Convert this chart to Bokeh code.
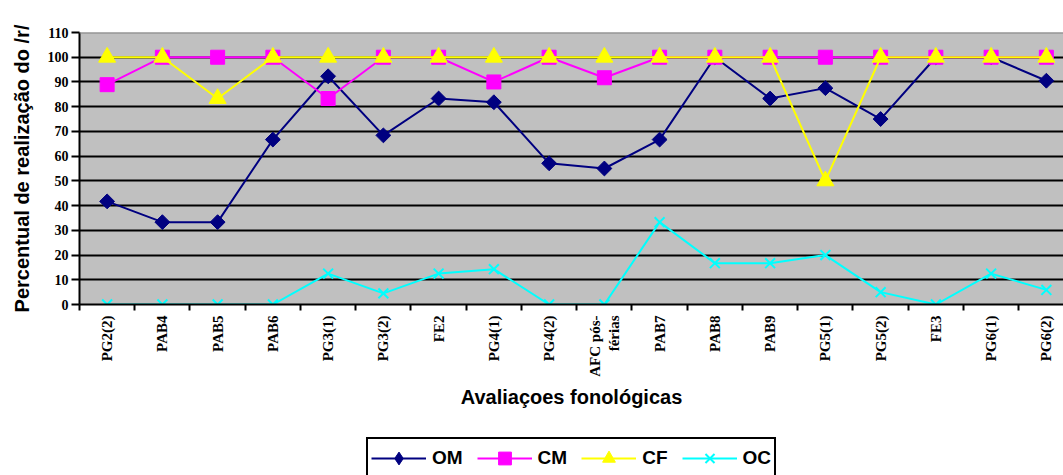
import numpy as np
from bokeh.plotting import figure
from bokeh.layouts import column
from bokeh.models import Range1d, FixedTicker, Span, Legend, LegendItem
from bokeh.embed import file_html
from bokeh.resources import INLINE

categories = ["PG2(2)", "PAB4", "PAB5", "PAB6", "PG3(1)", "PG3(2)", "FE2", "PG4(1)",
              "PG4(2)", "AFC pós-\nférias", "PAB7", "PAB8", "PAB9", "PG5(1)", "PG5(2)",
              "FE3", "PG6(1)", "PG6(2)"]
om = [41.7, 33.3, 33.3, 66.7, 92.3, 68.4, 83.3, 81.8, 57.1, 55.0, 66.7, 100, 83.3, 87.5, 75.0, 100, 100, 90.5]
cm = [88.9, 100, 100, 100, 83.3, 100, 100, 90.0, 100, 91.7, 100, 100, 100, 100, 100, 100, 100, 100]
cf = [100, 100, 83.3, 100, 100, 100, 100, 100, 100, 100, 100, 100, 100, 50, 100, 100, 100, 100]
oc = [0, 0, 0, 0, 12.5, 4.5, 12.5, 14.3, 0, 0, 33.3, 16.7, 16.7, 20.0, 5.0, 0, 12.5, 5.9]
series_names = ["OM", "CM", "CF", "OC"]
y_ticks = list(range(0, 111, 10))

idx = list(range(len(categories)))
series = [om, cm, cf, oc]
colors = ["#000080", "#FF00FF", "#FFFF00", "#00FFFF"]
markers = [dict(marker="square", angle=np.pi / 4, size=10.5),
           dict(marker="square", size=14),
           dict(marker="triangle", size=17),
           dict(marker="x", size=14, line_width=2)]
legend_markers = [dict(marker="diamond"), dict(marker="square"),
                  dict(marker="triangle"), dict(marker="x", line_width=2)]

p = figure(width=1063, height=435, x_range=Range1d(-0.5, 17.31), y_range=Range1d(0, 110),
           output_backend="svg", toolbar_location=None,
           min_border_left=79, min_border_right=0, min_border_top=32, min_border_bottom=131)
p.background_fill_color = "#C0C0C0"
p.border_fill_color = "white"
p.outline_line_color = None

p.xgrid.visible = False
p.ygrid.ticker = FixedTicker(ticks=y_ticks[1:-1])
p.ygrid.grid_line_color = "black"
p.ygrid.grid_line_width = 2
p.add_layout(Span(location=y_ticks[-1], dimension="width", line_color="#808080", line_width=2))

# y axis
ya = p.yaxis[0]
ya.ticker = FixedTicker(ticks=y_ticks)
ya.axis_line_color = "black"
ya.axis_line_width = 2
ya.major_tick_line_color = "black"
ya.major_tick_line_width = 2
ya.major_tick_out = 8
ya.major_tick_in = 0
ya.minor_tick_line_color = None
ya.major_label_text_font = "Liberation Serif"
ya.major_label_text_font_style = "bold"
ya.major_label_text_font_size = "14px"
ya.major_label_text_color = "black"
ya.major_label_standoff = 3
ya.axis_label = "Percentual de realização do /r/"
ya.axis_label_text_font = "Liberation Sans"
ya.axis_label_text_font_style = "bold"
ya.axis_label_text_font_size = "20px"
ya.axis_label_text_color = "black"
ya.axis_label_standoff = 12

# x axis
xa = p.xaxis[0]
xa.ticker = FixedTicker(ticks=idx, minor_ticks=[i - 0.5 for i in idx] + [len(idx) - 0.5])
xa.major_label_overrides = {i: c for i, c in enumerate(categories)}
xa.major_label_orientation = np.pi / 2
xa.axis_line_color = "black"
xa.axis_line_width = 2
xa.major_tick_line_color = None
xa.major_tick_out = 6
xa.major_tick_in = 0
xa.minor_tick_line_color = "black"
xa.minor_tick_line_width = 2
xa.minor_tick_out = 6
xa.minor_tick_in = 0
xa.major_label_text_font = "Liberation Serif"
xa.major_label_text_font_style = "bold"
xa.major_label_text_font_size = "15px"
xa.major_label_text_color = "black"
xa.major_label_standoff = 5
xa.axis_label = "Avaliaçoes fonológicas"
xa.axis_label_text_font = "Liberation Sans"
xa.axis_label_text_font_style = "bold"
xa.axis_label_text_font_size = "20px"
xa.axis_label_text_color = "black"
xa.axis_label_standoff = 6

# series
for vals, col, mk in zip(series, colors, markers):
    p.line(idx, vals, line_color=col, line_width=2)
    p.scatter(idx, vals, fill_color=col, line_color=col, **mk)

# legend strip below the chart (its renderers fall outside its own view)
q = figure(width=1063, height=40, x_range=Range1d(1000, 1001), y_range=Range1d(1000, 1001),
           output_backend="svg", toolbar_location=None, x_axis_type=None, y_axis_type=None,
           min_border_left=0, min_border_right=0, min_border_top=0, min_border_bottom=0)
q.outline_line_color = None
q.xgrid.visible = False
q.ygrid.visible = False
q.background_fill_color = "white"
q.border_fill_color = "white"
items = []
for name, vals, col, mk in zip(series_names, series, colors, legend_markers):
    lr = q.line(idx, vals, line_color=col, line_width=2)
    sr = q.scatter(idx, vals, fill_color=col, line_color=col, **mk)
    items.append(LegendItem(label=name, renderers=[lr, sr]))
legend = Legend(items=items, orientation="horizontal", location=(287, -4),
                border_line_color="black", border_line_width=2, border_line_alpha=1,
                background_fill_color="white", background_fill_alpha=1,
                label_text_font="Liberation Sans", label_text_font_style="bold",
                label_text_font_size="19px", label_text_color="black",
                glyph_width=55, glyph_height=32, label_standoff=6, spacing=14,
                padding=3, margin=0)
q.add_layout(legend, "center")

layout = column(p, q, spacing=0)
open("out.html", "w").write(file_html(layout, INLINE))
